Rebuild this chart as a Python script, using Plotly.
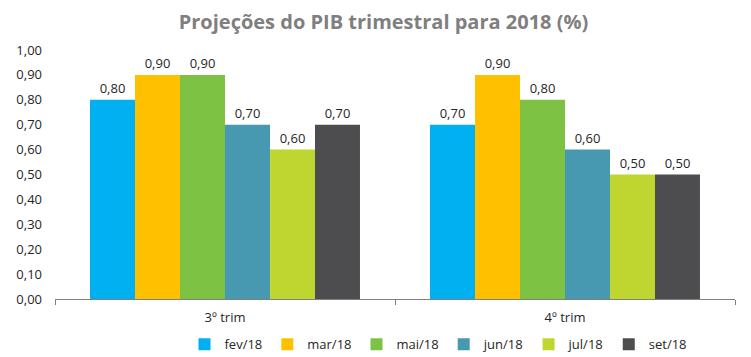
import plotly.graph_objects as go

categories = ["3º trim", "4º trim"]
series_names = ["fev/18", "mar/18", "mai/18", "jun/18", "jul/18", "set/18"]
series_values = [
    [0.80, 0.70],
    [0.90, 0.90],
    [0.90, 0.80],
    [0.70, 0.60],
    [0.60, 0.50],
    [0.70, 0.50],
]
colors = ["#00B0F0", "#FFC000", "#7DC242", "#4699B0", "#C0D630", "#4D4D4F"]
y_ticks = [0, 0.1, 0.2, 0.3, 0.4, 0.5, 0.6, 0.7, 0.8, 0.9, 1.0]

FONT = "Open Sans, Liberation Sans, sans-serif"

fig = go.Figure()
for name, vals, col in zip(series_names, series_values, colors):
    fig.add_trace(go.Bar(
        x=categories, y=vals, name=name, marker=dict(color=col, line=dict(width=0)),
        text=[f"{v:.2f}".replace(".", ",") for v in vals],
        textposition="outside", cliponaxis=False,
        textfont=dict(size=13, color="#262626", family=FONT),
    ))

fig.update_layout(
    width=751, height=357,
    margin=dict(l=47, r=24, t=42, b=66, autoexpand=False),
    paper_bgcolor="white", plot_bgcolor="white",
    barmode="group", bargap=0.206, bargroupgap=0,
    separators=",.",
    font=dict(family=FONT, size=13, color="#262626"),
    title=dict(text="<b>Projeções do PIB trimestral para 2018 (%)</b>", x=0.5, xanchor="center",
               y=0.962, yref="container", yanchor="middle", font=dict(size=20, color="#7F7F7F", family=FONT)),
    showlegend=True,
    legend=dict(orientation="h", x=0.235, xref="container", xanchor="left", y=0.058,
                yref="container", yanchor="middle",
                font=dict(size=13, color="#262626"), itemwidth=30, traceorder="normal",
                tracegroupgap=0),
    xaxis=dict(showline=True, linecolor="#808080", linewidth=1, ticks="outside",
               tickson="boundaries", ticklen=5, tickcolor="#808080", showgrid=False,
               automargin=False, ticklabelstandoff=6, tickfont=dict(size=13, color="#262626")),
    yaxis=dict(range=[0, 1.0], tickvals=y_ticks, tickformat=".2f", showgrid=False,
               showline=False, zeroline=False, ticklabelstandoff=12, automargin=False,
               tickfont=dict(size=13, color="#262626")),
)

fig.write_html("out.html")
